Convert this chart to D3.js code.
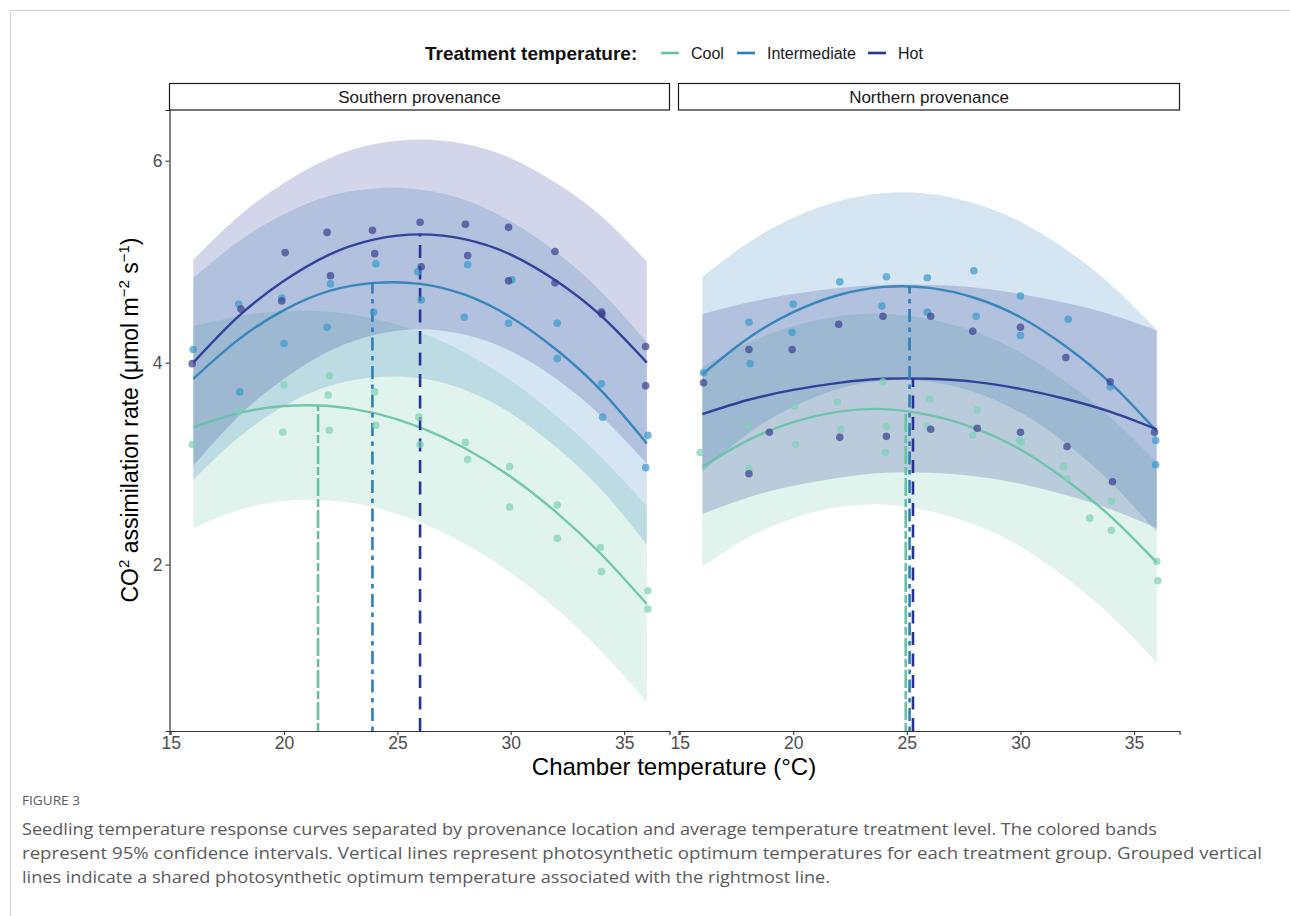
<!DOCTYPE html>
<html>
<head>
<meta charset="utf-8">
<script src="https://cdn.jsdelivr.net/npm/d3@7"></script>
<style>
  body { margin: 0; background: #fff; }
  svg { display: block; font-family: "Liberation Sans", Arial, sans-serif; }
</style>
</head>
<body>
<div id="chart"></div>
<script>
const temps = [16, 18, 20, 22, 24, 26, 28, 30, 32, 34, 36];
const treatments = ['Cool', 'Intermediate', 'Hot'];
const panelLabels = ['Southern provenance', 'Northern provenance'];
const xTicks = [15, 20, 25, 30, 35];
const yTicks = [2, 4, 6];

// Southern provenance: fitted curve + 95% band
const southCoolFit = [3.36, 3.50, 3.57, 3.57, 3.50, 3.36, 3.15, 2.87, 2.52, 2.10, 1.61];
const southCoolLo  = [2.36, 2.54, 2.63, 2.635, 2.565, 2.42, 2.205, 1.92, 1.565, 1.14, 0.64];
const southCoolHi  = [4.36, 4.46, 4.51, 4.505, 4.435, 4.30, 4.095, 3.82, 3.475, 3.06, 2.58];
const southIntFit  = [3.84, 4.23, 4.52, 4.71, 4.79, 4.78, 4.67, 4.45, 4.13, 3.72, 3.20];
const southIntLo   = [2.84, 3.26, 3.57, 3.77, 3.855, 3.845, 3.73, 3.50, 3.165, 2.74, 2.20];
const southIntHi   = [4.84, 5.20, 5.47, 5.65, 5.725, 5.715, 5.61, 5.40, 5.095, 4.70, 4.20];
const southHotFit  = [4.00, 4.46, 4.81, 5.07, 5.22, 5.27, 5.22, 5.07, 4.81, 4.46, 4.00];
const southHotLo   = [2.98, 3.47, 3.84, 4.115, 4.275, 4.33, 4.275, 4.115, 3.84, 3.47, 3.00];
const southHotHi   = [5.02, 5.45, 5.78, 6.025, 6.165, 6.21, 6.165, 6.025, 5.78, 5.45, 5.00];

// Northern provenance
const northCoolFit = [2.97, 3.23, 3.41, 3.515, 3.54, 3.48, 3.35, 3.14, 2.84, 2.47, 2.02];
const northCoolLo  = [1.98, 2.265, 2.46, 2.57, 2.595, 2.53, 2.395, 2.18, 1.87, 1.49, 1.03];
const northCoolHi  = [3.96, 4.195, 4.36, 4.46, 4.485, 4.43, 4.305, 4.10, 3.81, 3.45, 3.01];
const northIntFit  = [3.885, 4.24, 4.50, 4.67, 4.75, 4.74, 4.64, 4.45, 4.16, 3.79, 3.32];
const northIntLo   = [2.92, 3.295, 3.565, 3.74, 3.82, 3.81, 3.705, 3.505, 3.20, 2.81, 2.32];
const northIntHi   = [4.85, 5.185, 5.435, 5.60, 5.68, 5.67, 5.575, 5.395, 5.12, 4.77, 4.32];
const northHotFit  = [3.49, 3.63, 3.73, 3.80, 3.84, 3.84, 3.81, 3.74, 3.64, 3.51, 3.34];
const northHotLo   = [2.50, 2.665, 2.78, 2.86, 2.91, 2.91, 2.875, 2.80, 2.69, 2.545, 2.36];
const northHotHi   = [4.48, 4.595, 4.68, 4.74, 4.77, 4.77, 4.745, 4.68, 4.59, 4.475, 4.32];

// Observed seedlings [chamber temp, assimilation]
const southCoolPts = [[15.95,3.19],[18,3.52],[20,3.78],[19.95,3.31],[22,3.87],[21.95,3.68],[22,3.33],[24,3.71],[24.05,3.38],[25.95,3.46],[26,3.19],[28,3.21],[28.1,3.04],[29.95,2.97],[29.95,2.57],[32.05,2.59],[32.05,2.26],[33.95,2.17],[34,1.93],[36.05,1.74],[36.05,1.56]];
const southIntPts = [[16,4.13],[18,4.58],[18.05,3.71],[19.9,4.64],[20,4.19],[21.9,4.35],[22.05,4.78],[24.05,4.98],[23.95,4.50],[25.9,4.90],[26.05,4.62],[28.1,4.97],[27.95,4.45],[30.05,4.82],[29.9,4.39],[32.05,4.39],[32.05,4.04],[34,3.79],[34.05,3.46],[36.05,3.28],[35.95,2.96]];
const southHotPts = [[15.95,3.99],[18.1,4.53],[20.05,5.09],[19.9,4.61],[21.9,5.29],[22.05,4.86],[23.9,5.31],[24,5.08],[26,5.39],[26.05,4.95],[28,5.37],[28.1,5.06],[29.9,5.34],[29.9,4.81],[31.95,5.10],[31.95,4.79],[34,4.50],[34.02,4.48],[35.95,4.16],[35.95,3.77]];
const northCoolPts = [[15.9,3.11],[18.05,3.37],[18.05,2.95],[20.05,3.57],[20.1,3.19],[21.95,3.61],[22.1,3.34],[23.95,3.81],[24.1,3.37],[24.05,3.11],[26,3.64],[25.9,3.37],[28.1,3.53],[27.9,3.28],[29.95,3.23],[30.05,3.21],[31.9,2.97],[32.05,2.85],[33.05,2.46],[34,2.63],[34,2.34],[36,2.03],[36.05,1.84]];
const northIntPts = [[16.05,3.90],[18.05,4.40],[18.1,3.99],[20,4.58],[19.95,4.30],[22.05,4.80],[24.1,4.85],[23.9,4.56],[25.9,4.84],[25.9,4.50],[27.95,4.91],[28.05,4.46],[30,4.66],[30,4.27],[32.1,4.43],[33.95,3.76],[35.95,3.23],[35.95,2.99]];
const northHotPts = [[16.05,3.80],[18.05,4.13],[18.05,2.90],[18.95,3.31],[19.95,4.13],[22,4.38],[22.05,3.26],[23.95,4.46],[24.1,3.27],[26.05,4.46],[26.05,3.34],[27.9,4.31],[28.1,3.35],[30,4.35],[30,3.31],[32,4.05],[32.05,3.17],[33.95,3.81],[34.05,2.82],[35.9,3.31]];

// Photosynthetic optimum (Topt, A at Topt), order Cool, Intermediate, Hot
const southOptT = [21.5, 23.9, 26.0];
const southOptA = [3.58, 4.79, 5.27];
const northOptT = [24.95, 25.12, 25.27];
const northOptA = [3.52, 4.76, 3.84];

const captionLines = [
  'Seedling temperature response curves separated by provenance location and average temperature treatment level. The colored bands',
  'represent 95% confidence intervals. Vertical lines represent photosynthetic optimum temperatures for each treatment group. Grouped vertical',
  'lines indicate a shared photosynthetic optimum temperature associated with the rightmost line.'
];

const palette = { Cool: '#66c2a4', Intermediate: '#2c7fb8', Hot: '#253494' };
const dashes = { Cool: '8,3,18,3', Intermediate: '4.5,5.5,13,5.5', Hot: '13,8.5' };

function renderChart() {
  const svg = d3.select('#chart').append('svg')
    .attr('width', 1290).attr('height', 916);

  // page frame
  svg.append('line').attr('x1', 10).attr('x2', 1290).attr('y1', 10.5).attr('y2', 10.5)
    .attr('stroke', '#d0d0d0');
  svg.append('line').attr('x1', 10.5).attr('x2', 10.5).attr('y1', 10).attr('y2', 916)
    .attr('stroke', '#d0d0d0');

  const panels = [
    { label: panelLabels[0], x0: 169.5, x1: 669.5,
      fit: { Cool: southCoolFit, Intermediate: southIntFit, Hot: southHotFit },
      lo: { Cool: southCoolLo, Intermediate: southIntLo, Hot: southHotLo },
      hi: { Cool: southCoolHi, Intermediate: southIntHi, Hot: southHotHi },
      pts: { Cool: southCoolPts, Intermediate: southIntPts, Hot: southHotPts },
      optT: southOptT, optA: southOptA },
    { label: panelLabels[1], x0: 678.5, x1: 1179.5,
      fit: { Cool: northCoolFit, Intermediate: northIntFit, Hot: northHotFit },
      lo: { Cool: northCoolLo, Intermediate: northIntLo, Hot: northHotLo },
      hi: { Cool: northCoolHi, Intermediate: northIntHi, Hot: northHotHi },
      pts: { Cool: northCoolPts, Intermediate: northIntPts, Hot: northHotPts },
      optT: northOptT, optA: northOptA }
  ];

  const yTop = 110, yBot = 731;
  const y = d3.scaleLinear().domain([0.352, 6.502]).range([yBot, yTop]);

  panels.forEach((p, pi) => {
    const x = d3.scaleLinear().domain([14.95, 37.0]).range([p.x0, p.x1]);
    const g = svg.append('g');

    // confidence bands
    treatments.forEach(t => {
      const rows = temps.map((tt, k) => ({ t: tt, lo: p.lo[t][k], hi: p.hi[t][k] }));
      g.append('path').datum(rows)
        .attr('d', d3.area().x(d => x(d.t)).y0(d => y(d.lo)).y1(d => y(d.hi)).curve(d3.curveNatural))
        .attr('fill', palette[t]).attr('fill-opacity', 0.2);
    });

    // fitted curves
    treatments.forEach(t => {
      const rows = temps.map((tt, k) => ({ t: tt, v: p.fit[t][k] }));
      g.append('path').datum(rows)
        .attr('d', d3.line().x(d => x(d.t)).y(d => y(d.v)).curve(d3.curveNatural))
        .attr('fill', 'none').attr('stroke', palette[t])
        .attr('stroke-opacity', 0.9).attr('stroke-width', 2.4);
    });

    // optimum lines
    treatments.forEach((t, k) => {
      g.append('line')
        .attr('x1', x(p.optT[k])).attr('x2', x(p.optT[k]))
        .attr('y1', yBot).attr('y2', y(p.optA[k]))
        .attr('stroke', palette[t]).attr('stroke-width', 2.6)
        .attr('stroke-dasharray', dashes[t]);
    });

    // points
    treatments.forEach(t => {
      g.selectAll(null).data(p.pts[t]).enter().append('circle')
        .attr('cx', d => x(d[0])).attr('cy', d => y(d[1])).attr('r', 3.8)
        .attr('fill', t === 'Cool' ? '#7fd1b6' : t === 'Intermediate' ? '#3a98cc' : '#3a3e8f')
        .attr('fill-opacity', 0.7);
    });

    // x axis
    const xa = g.append('g').attr('transform', `translate(0,${yBot})`)
      .call(d3.axisBottom(x).tickValues(xTicks).tickSizeOuter(0).tickSize(4).tickPadding(2));
    xa.select('.domain').attr('stroke', '#333').attr('stroke-width', 1.2);
    xa.selectAll('.tick line').attr('stroke', '#333').attr('stroke-width', 1.1);
    xa.selectAll('.tick text').attr('font-size', 17.5).attr('fill', '#4d4d4d')
      .attr('font-family', '"Liberation Sans", Arial, sans-serif');

    if (pi === 0) {
      const ya = g.append('g').attr('transform', `translate(${p.x0},0)`)
        .call(d3.axisLeft(y).tickValues(yTicks).tickFormat(d3.format('d'))
          .tickSizeOuter(0).tickSize(4).tickPadding(3));
      ya.select('.domain').attr('stroke', '#333').attr('stroke-width', 1.2);
      ya.selectAll('.tick line').attr('stroke', '#333').attr('stroke-width', 1.1);
      ya.selectAll('.tick text').attr('font-size', 17.5).attr('fill', '#4d4d4d')
        .attr('font-family', '"Liberation Sans", Arial, sans-serif');
    }

    // facet strip
    svg.append('rect').attr('x', p.x0).attr('y', 83.5).attr('width', p.x1 - p.x0).attr('height', 26.5)
      .attr('fill', '#fff').attr('stroke', '#1a1a1a').attr('stroke-width', 1.2);
    svg.append('text').attr('x', (p.x0 + p.x1) / 2).attr('y', 97).attr('dy', '0.35em')
      .attr('text-anchor', 'middle').attr('font-size', 17).attr('fill', '#1a1a1a')
      .text(p.label);
  });

  // legend
  const lg = svg.append('g');
  lg.append('text').attr('x', 425).attr('y', 53).attr('dy', '0.35em')
    .attr('font-size', 19).attr('font-weight', 'bold').attr('fill', '#111')
    .text('Treatment temperature:');
  const keyX = [661, 737, 868];
  treatments.forEach((t, k) => {
    lg.append('line').attr('x1', keyX[k]).attr('x2', keyX[k] + 18).attr('y1', 53).attr('y2', 53)
      .attr('stroke', palette[t]).attr('stroke-width', 2.6);
    lg.append('text').attr('x', keyX[k] + 30).attr('y', 53).attr('dy', '0.35em')
      .attr('font-size', 16).attr('fill', '#1a1a1a').text(t);
  });

  // axis titles
  svg.append('text').attr('x', 674).attr('y', 775)
    .attr('text-anchor', 'middle').attr('font-size', 24).attr('fill', '#000')
    .text('Chamber temperature (°C)');

  const yt = svg.append('text').attr('transform', 'translate(138,420) rotate(-90)')
    .attr('text-anchor', 'middle').attr('font-size', 23).attr('fill', '#000');
  yt.append('tspan').text('CO');
  yt.append('tspan').attr('font-size', 15).attr('dy', -9).text('2');
  yt.append('tspan').attr('dy', 9).text(' assimilation rate (μmol m');
  yt.append('tspan').attr('font-size', 15).attr('dy', -9).text('−2');
  yt.append('tspan').attr('dy', 9).text(' s');
  yt.append('tspan').attr('font-size', 15).attr('dy', -9).text('−1');
  yt.append('tspan').attr('dy', 9).text(')');

  // caption
  const cap = svg.append('g').attr('font-family', '"Open Sans", "Noto Sans", sans-serif').attr('fill', '#5a5a5a');
  cap.append('text').attr('x', 22).attr('y', 805).attr('font-size', 12.5)
    .attr('textLength', 58).attr('lengthAdjust', 'spacingAndGlyphs').text('FIGURE 3');
  const capW = [1135, 1240, 808];
  captionLines.forEach((s, i) => {
    cap.append('text').attr('x', 22).attr('y', 835 + i * 24).attr('font-size', 16.5)
      .attr('textLength', capW[i]).attr('lengthAdjust', 'spacingAndGlyphs').text(s);
  });
}

document.addEventListener('DOMContentLoaded', renderChart);
</script>
</body>
</html>
